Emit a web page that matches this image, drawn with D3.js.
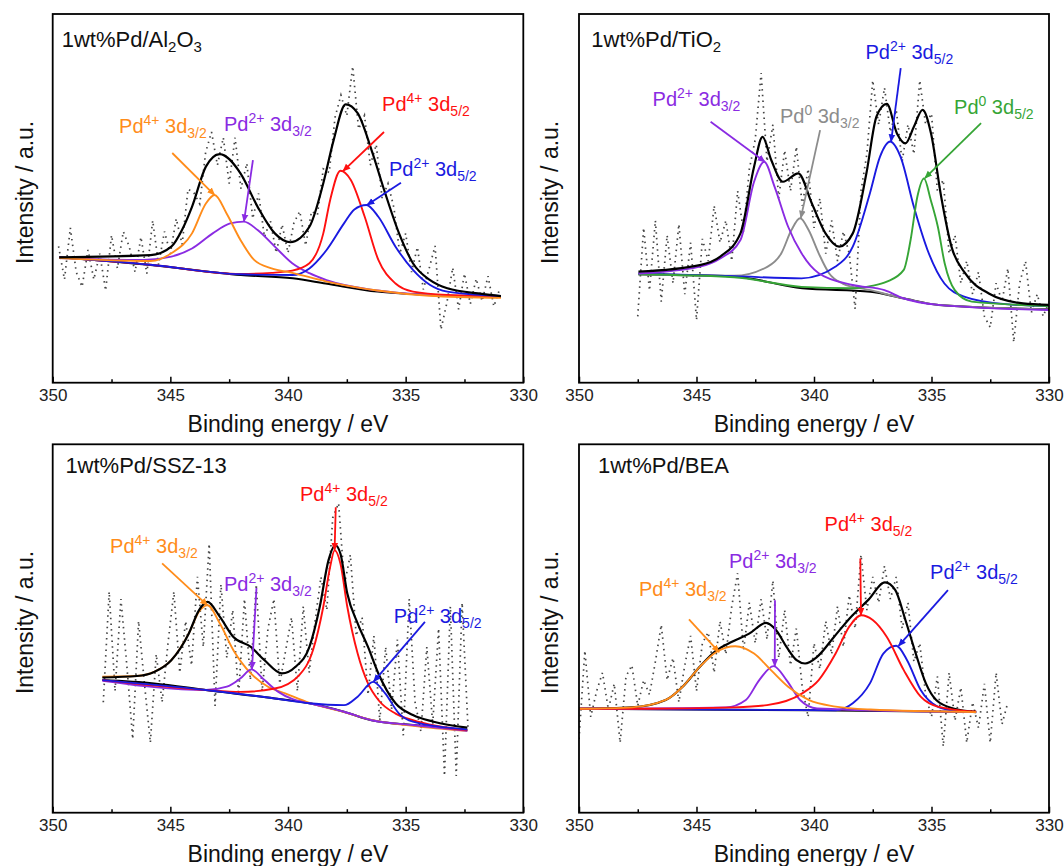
<!DOCTYPE html>
<html><head><meta charset="utf-8">
<script src="https://cdn.jsdelivr.net/npm/d3@7"></script>
<style>
html,body{margin:0;padding:0;background:#fff;}
svg{display:block;font-family:"Liberation Sans",Arial,sans-serif;}
</style></head>
<body>
<svg id="chart" width="1064" height="866"></svg>
<script>
// ---------------- DATA ----------------
const xTicks = [350, 345, 340, 335, 330];
const xMinorTicks = [347.5, 342.5, 337.5, 332.5];
const rawStep = 0.25;

// Panel A: 1wt%Pd/Al2O3
const alRawStart = 349.75;
const alRaw = [37,28,42,30,26,36,28,35,25,40,31,41,37,30,39.5,29.6,44,32,41,35,44.5,37.5,52.5,51.5,48.5,62.5,68,59,66.5,54,66.5,52.6,59.5,44.5,51.3,39.5,44,35.2,42.9,35.2,43.3,46.5,37.2,46.5,45.5,58,57,72,78,72.4,85.8,68.8,72.5,59,64.6,50,54,47.5,35,40.5,30,36.8,25.3,31,37.1,14.4,21.6,31.2,19.9,29.6,21.4,28.2,22.1,28.9,20.7,25.5];
const alBg = [[349.72,34.0],[345.84,31.9],[342.0,29.2],[339.8,28.3],[338.4,26.9],[336.2,24.7],[334.0,23.8],[330.95,23.3]];
const alEnv = [[349.72,34.0],[345.84,34.6],[344.96,36.9],[344.5,41.5],[344.08,47.7],[343.49,58.6],[342.9,62.0],[342.02,56.8],[341.29,47.7],[340.56,40.5],[339.9,38.1],[339.09,42.3],[338.5,54.1],[338.06,65.8],[337.55,75.5],[337.04,73.1],[336.45,63.1],[335.87,51.4],[335.28,40.5],[334.69,32.4],[333.96,27.8],[333.23,25.6],[331.76,24.1],[330.95,23.5]];
const alPd4_32 = [[349.72,33.8],[345.84,33.0],[344.96,35.1],[344.08,40.5],[343.49,48.6],[343.12,50.9],[342.61,45.9],[342.02,38.7],[341.44,33.3],[340.7,31.0],[339.82,29.8],[338.4,27.5],[336.2,25.0],[334.0,23.6],[330.95,23.0]];
const alPd2_32 = [[349.72,33.8],[346.13,33.3],[344.96,34.2],[344.08,36.4],[343.2,40.5],[342.46,43.2],[341.88,43.7],[341.29,41.4],[340.56,36.9],[339.82,32.4],[339.09,29.7],[338.36,27.8],[336.2,25.0],[334.0,23.8],[330.95,23.2]];
const alPd4_52 = [[349.72,34.0],[345.84,32.0],[342.0,29.5],[340.7,29.8],[339.82,30.4],[339.09,32.4],[338.5,40.5],[338.21,49.5],[337.77,57.5],[337.33,55.0],[336.74,45.0],[336.16,33.3],[335.43,26.9],[334.69,24.7],[333.23,23.8],[330.95,23.5]];
const alPd2_52 = [[349.72,34.0],[345.84,32.0],[342.0,29.4],[339.82,29.2],[339.09,31.0],[338.36,36.0],[337.62,43.2],[337.18,47.0],[336.67,48.2],[336.16,45.0],[335.43,36.9],[334.69,30.6],[333.96,26.5],[333.23,24.7],[331.76,23.8],[330.95,23.5]];

// Panel B: 1wt%Pd/TiO2
const tiRawStart = 347.5;
const tiRaw = [18,42,25,44,22,40,27,43,24,38,17,39,33,48,38,44,33,52,41,58,66,84,60,70,50,63,52,64,48,58,42,50,35,44,33,41,35,20,52,62,82,70,80,68,74,60,70,62,82,70,73,52,55,35,40,27,33,24,30,18,15,27,22,31,11,27,33,19,24,18,22];
const tiBg = [[347.47,29.4],[343.4,28.8],[340.5,25.6],[337.6,24.7],[336.2,22.9],[334.7,21.1],[330.0,19.9]];
const tiEnv = [[347.47,30.1],[344.86,31.9],[343.99,34.2],[343.13,40.5],[342.55,58.6],[342.19,66.7],[341.82,60.4],[341.32,54.5],[340.67,56.8],[340.09,48.6],[339.51,40.5],[338.93,36.9],[338.35,40.5],[337.77,56.8],[337.34,72.2],[336.9,75.6],[336.47,67.6],[336.11,64.9],[335.75,69.4],[335.38,74.0],[335.02,67.6],[334.59,50.5],[334.15,36.9],[333.57,29.7],[332.56,24.2],[331.11,21.5],[330.0,21.1]];
const tiPd2_32 = [[347.47,29.6],[344.86,31.5],[343.99,33.7],[343.13,38.7],[342.55,54.5],[342.12,59.9],[341.68,53.2],[341.1,42.3],[340.53,35.1],[339.8,29.7],[338.35,26.5],[337.0,25.1],[336.2,22.9],[334.7,21.1],[330.0,19.7]];
const tiPd0_32 = [[347.47,29.4],[343.4,29.0],[341.97,31.5],[341.39,35.1],[340.96,41.4],[340.59,44.6],[340.23,41.4],[339.8,35.1],[339.36,29.7],[338.78,26.9],[337.6,25.1],[336.2,22.9],[334.7,21.1],[330.0,19.9]];
const tiPd2_52 = [[347.47,29.6],[343.4,28.9],[340.53,28.3],[339.08,31.5],[338.35,36.9],[337.62,51.4],[337.19,61.3],[336.76,65.4],[336.32,61.3],[335.75,47.7],[335.17,36.0],[334.45,26.9],[333.58,23.3],[331.85,21.3],[330.0,20.8]];
const tiPd0_52 = [[347.47,29.4],[343.4,28.6],[340.53,26.0],[338.35,25.6],[337.6,26.2],[336.9,27.4],[336.18,30.6],[335.89,38.7],[335.6,50.5],[335.32,55.4],[335.03,49.5],[334.73,42.3],[334.44,32.4],[334.01,25.1],[333.29,22.0],[330.0,20.8]];

// Panel C: 1wt%Pd/SSZ-13
const szRawStart = 347.85;
const szRaw = [30,60,33,58,40,20,52,35,19,43,30,46,60,38,52,40,64,45,73,29,62,42,55,32,58,36,62,33,50,58,35,44,53,33,56,38,52,64,55,80,84,62,70,48,53,32,48,25,45,28,47,21,58,30,22,45,24,50,10,56,10,57,23];
const szBg = [[347.89,36.0],[345.69,35.1],[343.49,33.3],[340.56,31.0],[339.09,29.7],[337.62,27.4],[336.45,25.1],[334.69,23.8],[332.38,22.4]];
const szEnv = [[347.89,36.7],[346.42,37.1],[345.69,38.2],[344.96,41.4],[344.22,48.6],[343.78,55.0],[343.42,57.2],[342.9,53.2],[342.32,47.7],[341.58,45.0],[341.0,41.4],[340.26,37.8],[339.68,39.6],[339.09,45.0],[338.65,55.9],[338.28,68.5],[337.99,72.6],[337.77,70.3],[337.48,59.5],[337.04,51.4],[336.6,45.0],[336.16,37.8],[335.43,29.7],[334.69,26.5],[333.81,24.7],[332.38,23.1]];
const szPd4_32 = [[347.89,36.9],[346.42,37.1],[345.69,38.2],[344.96,41.4],[344.22,48.6],[343.78,54.6],[343.42,56.3],[342.9,51.4],[342.32,44.1],[341.58,37.8],[340.85,34.2],[340.12,32.4],[339.09,29.8],[337.62,27.3],[336.45,25.2],[334.69,23.6],[332.38,22.2]];
const szPd2_32 = [[347.89,35.8],[343.49,33.3],[342.6,34.2],[342.03,36.4],[341.55,38.9],[341.0,36.0],[340.41,32.8],[339.8,30.8],[339.09,29.7],[337.62,27.4],[336.45,25.1],[334.69,23.8],[332.38,22.2]];
const szPd4_52 = [[347.89,36.0],[343.49,33.3],[342.02,32.8],[340.56,33.7],[339.53,37.3],[338.94,44.1],[338.5,55.9],[338.21,66.7],[338.02,71.2],[337.77,67.6],[337.48,55.9],[337.04,43.2],[336.6,35.1],[336.16,30.6],[335.43,26.9],[334.69,25.1],[332.38,22.4]];
const szPd2_52 = [[347.89,36.0],[343.49,33.3],[340.56,31.0],[339.09,29.7],[337.62,29.2],[337.04,31.5],[336.38,35.5],[335.87,32.4],[335.28,26.9],[334.69,24.7],[332.38,22.6]];

// Panel D: 1wt%Pd/BEA
const beRawStart = 350.0;
const beRaw = [20,44,26,33,38,28,35,19,37,40,29,36,32,41,51,36,42,30,40,48,33,46,49,38,52,43,56,65,44,57,46,58,47,63,42,55,40,50,34,26,46,39,52,43,56,45,59,50,70,55,64,57,67,58,64,50,57,41,46,32,26,37,18,38,25,34,19,30,23,35,19,38,24,30];
const beBg = [[350,28.2],[340,27.8],[333.1,27.3]];
const beEnv = [[350,28.2],[347.76,28.6],[346.31,30.6],[345.59,34.2],[344.86,39.6],[344.14,44.1],[343.49,46.4],[342.76,48.6],[342.04,51.5],[341.61,49.5],[341.17,45.0],[340.74,41.4],[340.38,40.5],[339.87,42.3],[339.15,47.7],[338.42,53.2],[337.7,57.7],[336.98,62.5],[336.54,60.4],[336.11,52.3],[335.67,43.2],[335.24,35.1],[334.8,30.6],[334.07,28.3],[333.1,27.4]];
const bePd4_32 = [[350,28.2],[347.76,28.6],[346.31,30.6],[345.59,34.2],[344.86,39.6],[344.14,43.7],[343.35,45.2],[342.55,43.2],[341.83,38.7],[341.1,34.2],[340.23,30.6],[339.08,28.8],[337.6,28.0],[333.1,27.3]];
const bePd2_32 = [[350,28.2],[343.75,28.6],[342.9,30.6],[342.33,36.0],[341.72,39.8],[341.17,36.0],[340.59,30.6],[339.87,28.3],[333.1,27.3]];
const bePd4_52 = [[350,28.2],[347.1,28.2],[343.4,28.6],[342.0,29.2],[340.5,32.4],[339.8,36.0],[339.08,43.2],[338.5,50.5],[337.99,53.6],[337.5,52.3],[336.9,47.7],[336.18,38.7],[335.46,31.5],[334.74,28.8],[333.1,27.4]];
const bePd2_52 = [[350,28.2],[339.08,27.8],[338.35,29.7],[337.62,35.1],[337.05,43.2],[336.5,45.3],[336.04,41.4],[335.46,33.3],[334.74,28.8],[334.02,27.7],[333.1,27.3]];

// ---------------- STYLE ----------------
const C = {orange:"#ff8c1a", purple:"#8a2be2", red:"#ff1010", blue:"#1a1ae0", grey:"#8c8c8c", green:"#36a536", black:"#000"};
const FONT = '"Liberation Sans", Arial, sans-serif';

const svg = d3.select("#chart");
const defs = svg.append("defs");
Object.entries(C).forEach(([k,col])=>{
  defs.append("marker").attr("id","ah-"+k).attr("viewBox","0 0 10 10")
    .attr("refX",9).attr("refY",5).attr("markerWidth",8).attr("markerHeight",8)
    .attr("markerUnits","userSpaceOnUse").attr("orient","auto")
    .append("path").attr("d","M0,0.8 L10,5 L0,9.2 z").attr("fill",col);
});

const panels = [
  {left:52.7, top:14, w:470.6, h:368.7, title:[["1wt%Pd/Al",0],["2",1],["O",0],["3",1]], tdx:9, tdy:32.7, envFirst:false,
   rawStart:alRawStart, raw:alRaw, bg:alBg, env:alEnv,
   comps:[[alPd2_32,"purple"],[alPd4_52,"red"],[alPd2_52,"blue"],[alPd4_32,"orange"]],
   labels:[
     {c:"orange", ion:"4+", orb:"3/2", x:347.18, y:67.7, a:[344.92,62.3,343.12,50.9]},
     {c:"purple", ion:"2+", orb:"3/2", x:342.72, y:68.3, a:[341.49,60.4,341.87,43.7]},
     {c:"red", ion:"4+", orb:"5/2", x:336.0, y:73.7, a:[335.92,68.0,337.66,57.4]},
     {c:"blue", ion:"2+", orb:"5/2", x:335.71, y:56.1, a:[335.2,54.2,336.64,48.2]}
   ]},
  {left:579, top:14, w:470, h:368.7, title:[["1wt%Pd/TiO",0],["2",1]], tdx:12.3, tdy:32.7, envFirst:false,
   rawStart:tiRawStart, raw:tiRaw, bg:tiBg, env:tiEnv,
   comps:[[tiPd0_32,"grey"],[tiPd2_52,"blue"],[tiPd0_52,"green"],[tiPd2_32,"purple"]],
   labels:[
     {c:"purple", ion:"2+", orb:"3/2", x:346.87, y:75.0, a:[344.4,70.8,342.09,59.9]},
     {c:"grey", ion:"0", orb:"3/2", x:341.45, y:70.4, a:[339.74,68.5,340.56,44.7]},
     {c:"blue", ion:"2+", orb:"5/2", x:337.81, y:87.8, a:[336.31,85.3,336.72,65.4]},
     {c:"green", ion:"0", orb:"5/2", x:334.04, y:72.9, a:[332.89,70.4,335.28,55.5]}
   ]},
  {left:52.7, top:444.3, w:470.6, h:368.4, title:[["1wt%Pd/SSZ-13",0]], tdx:12.7, tdy:28.6, envFirst:false,
   rawStart:szRawStart, raw:szRaw, bg:szBg, env:szEnv,
   comps:[[szPd4_32,"orange"],[szPd2_32,"purple"],[szPd4_52,"red"],[szPd2_52,"blue"]],
   labels:[
     {c:"orange", ion:"4+", orb:"3/2", x:347.56, y:70.4, a:[345.35,67.7,343.42,56.3]},
     {c:"purple", ion:"2+", orb:"3/2", x:342.72, y:60.1, a:[341.34,61.0,341.53,39.0]},
     {c:"red", ion:"4+", orb:"5/2", x:339.49, y:84.5, a:[337.97,82.9,338.02,71.3]},
     {c:"blue", ion:"2+", orb:"5/2", x:335.5, y:51.5, a:[334.18,51.8,336.36,35.6]}
   ]},
  {left:579, top:444.3, w:470, h:368.4, title:[["1wt%Pd/BEA",0]], tdx:19, tdy:29, envFirst:true,
   rawStart:beRawStart, raw:beRaw, bg:beBg, env:beEnv,
   comps:[[bePd2_52,"blue"],[bePd2_32,"purple"],[bePd4_52,"red"],[bePd4_32,"orange"]],
   labels:[
     {c:"orange", ion:"4+", orb:"3/2", x:347.45, y:58.8, a:[345.32,52.5,344.04,43.6]},
     {c:"purple", ion:"2+", orb:"3/2", x:343.62, y:66.4, a:[341.66,57.7,341.67,39.8]},
     {c:"red", ion:"4+", orb:"5/2", x:339.55, y:76.4, a:[338.03,69.0,338.0,53.6]},
     {c:"blue", ion:"2+", orb:"5/2", x:335.06, y:63.4, a:[334.3,60.4,336.4,45.3]}
   ]}
];

panels.forEach((p,pi)=>{
  const g = svg.append("g").attr("transform",`translate(${p.left},${p.top})`);
  const x = d3.scaleLinear().domain([350,330]).range([0,p.w]);
  const y = d3.scaleLinear().domain([0,100]).range([p.h,0]);
  const clipId = "clip"+pi;
  defs.append("clipPath").attr("id",clipId).append("rect").attr("width",p.w).attr("height",p.h);
  const plot = g.append("g").attr("clip-path",`url(#${clipId})`);

  const line = d3.line().x(d=>x(d[0])).y(d=>y(d[1])).curve(d3.curveMonotoneX);
  const rawLine = d3.line().x((d,i)=>x(p.rawStart - i*rawStep)).y(d=>y(d));

  // raw data (dotted)
  plot.append("path").attr("d",rawLine(p.raw)).attr("fill","none")
    .attr("stroke","#444").attr("stroke-width",1.7)
    .attr("stroke-dasharray","1.5 4.2");

  const drawEnv = ()=>plot.append("path").attr("d",line(p.env)).attr("fill","none").attr("stroke","#000").attr("stroke-width",2.2);
  // background
  plot.append("path").attr("d",line(p.bg)).attr("fill","none").attr("stroke","#000").attr("stroke-width",2);
  if (p.envFirst) drawEnv();
  // components
  p.comps.forEach(([data,col])=>{
    plot.append("path").attr("d",line(data)).attr("fill","none").attr("stroke",C[col]).attr("stroke-width",1.9);
  });
  if (!p.envFirst) drawEnv();

  // frame
  g.append("rect").attr("width",p.w).attr("height",p.h).attr("fill","none").attr("stroke","#000").attr("stroke-width",1.8);

  // x axis (inward ticks)
  const ax = g.append("g").attr("transform",`translate(0,${p.h})`)
    .call(d3.axisBottom(x).tickValues(xTicks).tickSizeInner(-6).tickSizeOuter(0).tickPadding(6).tickFormat(d3.format("d")));
  ax.select(".domain").remove();
  ax.selectAll("line").attr("stroke","#000").attr("stroke-width",1.5);
  ax.selectAll("text").attr("font-size",17).attr("font-family",FONT).attr("fill","#222");
  const axm = g.append("g").attr("transform",`translate(0,${p.h})`)
    .call(d3.axisBottom(x).tickValues(xMinorTicks).tickSizeInner(-3.5).tickSizeOuter(0).tickFormat(""));
  axm.select(".domain").remove();
  axm.selectAll("line").attr("stroke","#000").attr("stroke-width",1.5);

  // axis titles
  g.append("text").attr("x",p.w/2).attr("y",p.h+49).attr("text-anchor","middle")
    .attr("font-size",23).attr("font-family",FONT).attr("fill","#111").text("Binding energy / eV");
  g.append("text").attr("transform",`translate(${pi%2===0 ? 33-p.left : 557.6-p.left},${p.h/2-6}) rotate(-90)`)
    .attr("text-anchor","middle").attr("font-size",23).attr("font-family",FONT).attr("fill","#111")
    .text("Intensity / a.u.");

  // panel title
  const t = g.append("text").attr("x",p.tdx).attr("y",p.tdy).attr("font-size",22).attr("font-family",FONT).attr("fill","#111");
  let shift = 0;
  p.title.forEach(([s,sub])=>{
    const want = sub ? 5 : 0;
    t.append("tspan").attr("dy",want-shift).attr("font-size",sub?15:22).text(s);
    shift = want;
  });

  // peak labels and arrows
  p.labels.forEach(L=>{
    const col = C[L.c];
    const tx = g.append("text").attr("x",x(L.x)).attr("y",y(L.y)).attr("font-size",20)
      .attr("font-family",FONT).attr("fill",col);
    tx.append("tspan").text("Pd");
    tx.append("tspan").attr("dy",-8).attr("font-size",14).text(L.ion);
    tx.append("tspan").attr("dy",8).text(" 3d");
    tx.append("tspan").attr("dy",5).attr("font-size",14).text(L.orb);
    g.append("line").attr("x1",x(L.a[0])).attr("y1",y(L.a[1])).attr("x2",x(L.a[2])).attr("y2",y(L.a[3]))
      .attr("stroke",col).attr("stroke-width",1.8).attr("marker-end",`url(#ah-${L.c})`);
  });
});
</script>
</body></html>
